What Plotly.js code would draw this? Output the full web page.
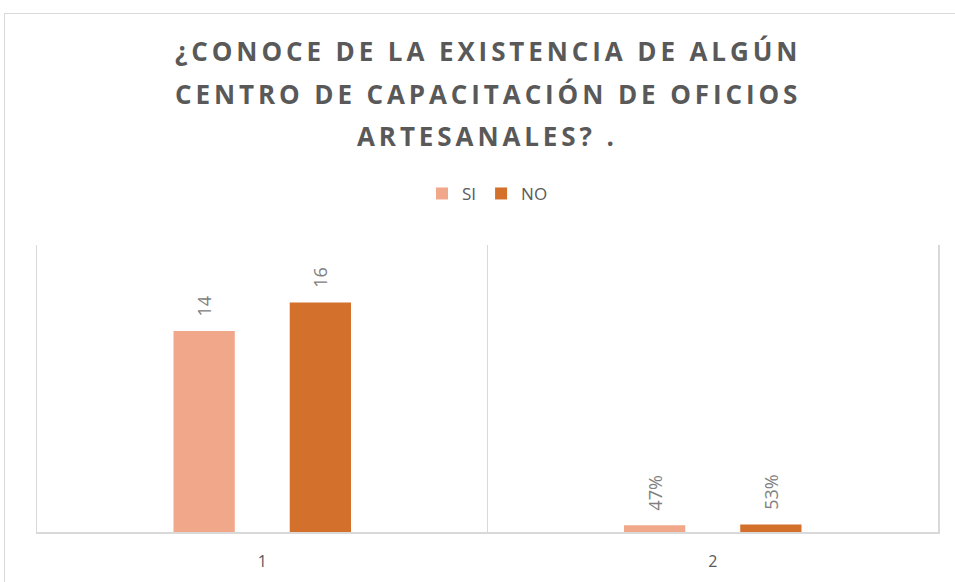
<!DOCTYPE html>
<html>
<head>
<meta charset="utf-8">
<script src="https://cdn.plot.ly/plotly-3.0.1.min.js"></script>
<style>
  html, body { margin: 0; padding: 0; overflow: hidden; background: #fff; }
  #frame { position: absolute; left: 4px; top: 13px; width: 980px; height: 620px; border: 1px solid #d9d9d9; pointer-events: none; }
  #chart { position: absolute; left: 0; top: 0; width: 955px; height: 582px; }
  .annotation-text { letter-spacing: 3.9px; }
</style>
</head>
<body>
<div id="chart"></div>
<div id="frame"></div>
<script>
const categories = [1, 2];
const categoryLabels = ['1', '2'];
const seriesNames = ['SI', 'NO'];
const siValues = [14, 0.47];
const noValues = [16, 0.53];
const siLabels = ['14', '47%'];
const noLabels = ['16', '53%'];
const titleLines = ['¿CONOCE DE LA EXISTENCIA DE ALGÚN', 'CENTRO DE CAPACITACIÓN DE OFICIOS', 'ARTESANALES? .'];

const labelFont = { family: 'Open Sans, sans-serif', size: 18, color: '#808080' };
const gapTpl = '<span style="color:rgba(255,255,255,0)">--</span>%{text}';

const traces = [
  { type: 'bar', name: seriesNames[0], x: categories, y: siValues, text: siLabels,
    texttemplate: gapTpl, textposition: 'outside', textangle: -90, cliponaxis: false,
    outsidetextfont: labelFont, marker: { color: '#F1A78A' }, hoverinfo: 'skip' },
  { type: 'bar', name: seriesNames[1], x: categories, y: noValues, text: noLabels,
    texttemplate: gapTpl, textposition: 'outside', textangle: -90, cliponaxis: false,
    outsidetextfont: labelFont, marker: { color: '#D3702B' }, hoverinfo: 'skip' }
];

const titleY = [1.676, 1.526, 1.381];
const annotations = titleLines.map((t, i) => ({
  text: t, xref: 'paper', yref: 'paper', x: 0.5, y: titleY[i], xanchor: 'center', yanchor: 'middle',
  showarrow: false, font: { family: 'Open Sans, sans-serif', size: 26, weight: 'bold', color: '#595959' }
}));

const layout = {
  width: 955, height: 582,
  margin: { l: 37, r: 17, t: 245, b: 50 },
  paper_bgcolor: '#ffffff', plot_bgcolor: '#ffffff',
  barmode: 'group', bargap: 0.484, bargroupgap: 0.473,
  showlegend: true,
  legend: { orientation: 'h', x: 0.5, xanchor: 'center', y: 1.178, yanchor: 'middle',
    font: { family: 'Open Sans, sans-serif', size: 17, color: '#595959' }, itemwidth: 30, tracegroupgap: 0 },
  xaxis: { range: [0.5, 2.5], tickvals: categories, ticktext: categoryLabels, showgrid: false,
    showline: true, linecolor: '#d9d9d9', linewidth: 2, ticks: '', zeroline: false,
    minor: { tick0: 0.5, dtick: 1, showgrid: true, gridcolor: '#d9d9d9', gridwidth: 1.5, ticks: '' },
    tickfont: { family: 'Open Sans, sans-serif', size: 16, color: '#595959' }, ticklabelstandoff: 14, fixedrange: true },
  yaxis: { range: [0, 20], visible: true, showline: true, mirror: true, linecolor: '#d9d9d9', linewidth: 1.5,
    showticklabels: false, ticks: '', showgrid: false, zeroline: false, fixedrange: true },
  annotations: annotations
};

Plotly.newPlot('chart', traces, layout, { staticPlot: true, displayModeBar: false });
</script>
</body>
</html>
